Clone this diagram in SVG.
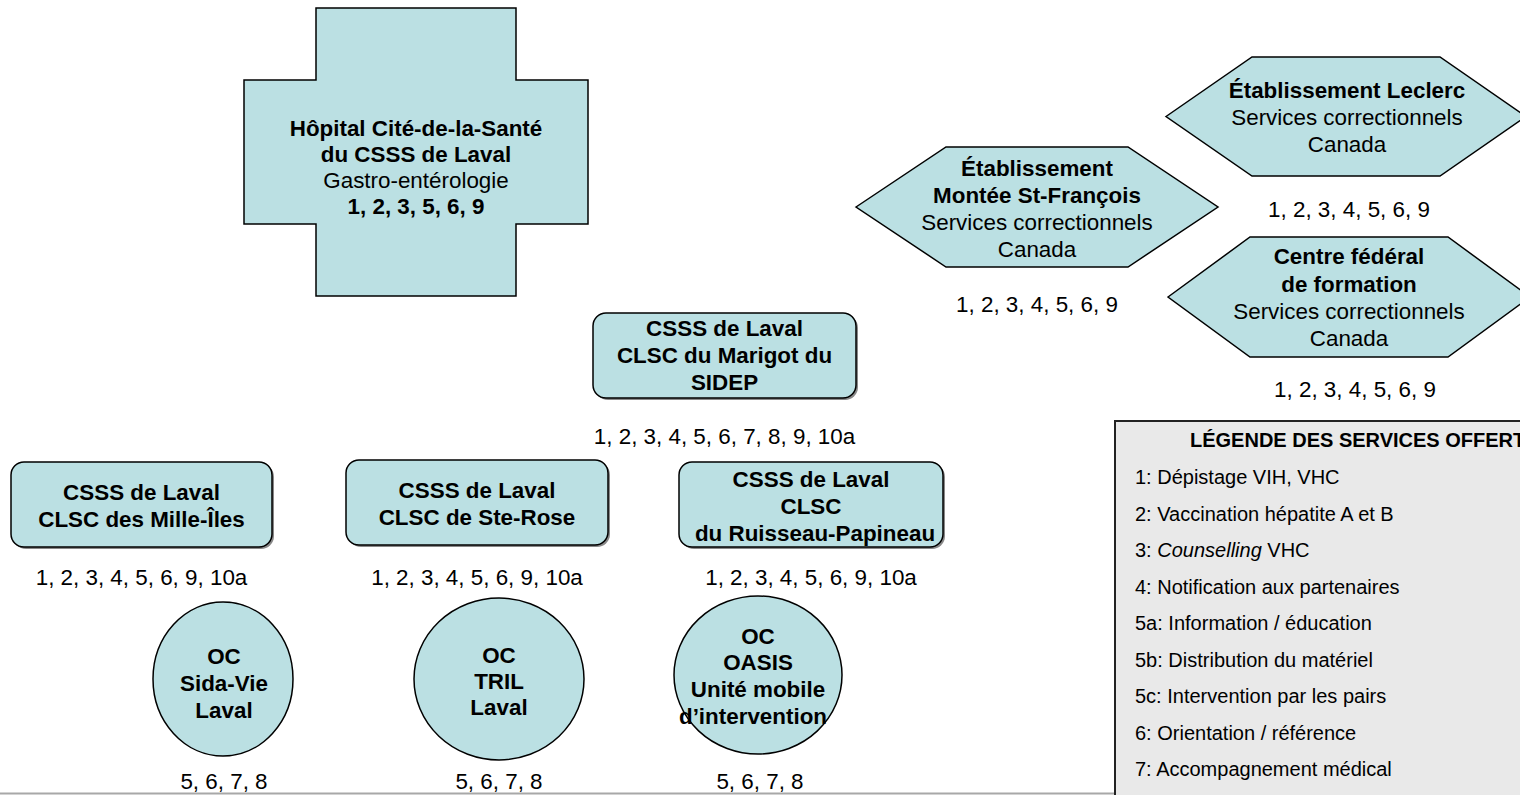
<svg xmlns="http://www.w3.org/2000/svg" width="1520" height="795" viewBox="0 0 1520 795">
<style>
.n{fill:#bbe0e3;stroke:#000;stroke-width:1.5}
.sh{fill:#555;opacity:0.7}
text{font-family:"Liberation Sans",Arial,sans-serif;font-size:22.4px;fill:#000;text-anchor:middle}
.b{font-weight:bold}
.lg{font-size:20px;text-anchor:start}
.lt{font-size:20px;font-weight:bold;text-anchor:start}
</style>
<rect width="1520" height="795" fill="#fff"/>
<line x1="0" y1="793.5" x2="1116" y2="793.5" stroke="#a8a8a8" stroke-width="2"/>
<g id="connectors"/>

<g id="hopital">
<path class="n" d="M316,8H516V80H588V224H516V296H316V224H244V80H316Z"/>
<text class="b" x="416" y="136">Hôpital Cité-de-la-Santé</text>
<text class="b" x="416" y="162">du CSSS de Laval</text>
<text x="416" y="188">Gastro-entérologie</text>
<text class="b" x="416" y="214">1, 2, 3, 5, 6, 9</text>
</g>

<g id="montee">
<polygon class="n" points="856,207 946,147 1128,147 1218,207 1128,267 946,267"/>
<text class="b" x="1037" y="176">Établissement</text>
<text class="b" x="1037" y="203">Montée St-François</text>
<text x="1037" y="230">Services correctionnels</text>
<text x="1037" y="257">Canada</text>
<text x="1037" y="312">1, 2, 3, 4, 5, 6, 9</text>
</g>

<g id="leclerc">
<polygon class="n" points="1166,116.5 1252,57 1440,57 1526,116.5 1440,176 1252,176"/>
<text class="b" x="1347" y="98">Établissement Leclerc</text>
<text x="1347" y="125">Services correctionnels</text>
<text x="1347" y="152">Canada</text>
<text x="1349" y="217">1, 2, 3, 4, 5, 6, 9</text>
</g>

<g id="centre-federal">
<polygon class="n" points="1168,297 1250,237 1448,237 1530,297 1448,357 1250,357"/>
<text class="b" x="1349" y="264">Centre fédéral</text>
<text class="b" x="1349" y="292">de formation</text>
<text x="1349" y="319">Services correctionnels</text>
<text x="1349" y="346">Canada</text>
<text x="1355" y="397">1, 2, 3, 4, 5, 6, 9</text>
</g>

<g id="marigot">
<rect class="sh" x="595" y="315" width="263" height="85" rx="13"/>
<rect class="n" x="593" y="313" width="263" height="85" rx="13"/>
<text class="b" x="724.5" y="336">CSSS de Laval</text>
<text class="b" x="724.5" y="363">CLSC du Marigot du</text>
<text class="b" x="724.5" y="390">SIDEP</text>
<text x="724.5" y="444">1, 2, 3, 4, 5, 6, 7, 8, 9, 10a</text>
</g>

<g id="mille-iles">
<rect class="sh" x="13" y="464" width="261" height="85" rx="13"/>
<rect class="n" x="11" y="462" width="261" height="85" rx="13"/>
<text class="b" x="141.5" y="500">CSSS de Laval</text>
<text class="b" x="141.5" y="527">CLSC des Mille-Îles</text>
<text x="141.5" y="585">1, 2, 3, 4, 5, 6, 9, 10a</text>
</g>

<g id="ste-rose">
<rect class="sh" x="348" y="462" width="262" height="85" rx="13"/>
<rect class="n" x="346" y="460" width="262" height="85" rx="13"/>
<text class="b" x="477" y="498">CSSS de Laval</text>
<text class="b" x="477" y="525">CLSC de Ste-Rose</text>
<text x="477" y="585">1, 2, 3, 4, 5, 6, 9, 10a</text>
</g>

<g id="ruisseau">
<rect class="sh" x="681" y="464" width="264" height="85" rx="13"/>
<rect class="n" x="679" y="462" width="264" height="85" rx="13"/>
<text class="b" x="811" y="487">CSSS de Laval</text>
<text class="b" x="811" y="514">CLSC</text>
<text class="b" x="815" y="541">du Ruisseau-Papineau</text>
<text x="811" y="585">1, 2, 3, 4, 5, 6, 9, 10a</text>
</g>

<g id="sida-vie">
<ellipse class="n" cx="223" cy="679" rx="70" ry="77"/>
<text class="b" x="224" y="664">OC</text>
<text class="b" x="224" y="691">Sida-Vie</text>
<text class="b" x="224" y="718">Laval</text>
<text x="224" y="789">5, 6, 7, 8</text>
</g>

<g id="tril">
<ellipse class="n" cx="499" cy="679" rx="85" ry="81"/>
<text class="b" x="499" y="663">OC</text>
<text class="b" x="499" y="689">TRIL</text>
<text class="b" x="499" y="715">Laval</text>
<text x="499" y="789">5, 6, 7, 8</text>
</g>

<g id="oasis">
<ellipse class="n" cx="758" cy="675" rx="84" ry="79"/>
<text class="b" x="758" y="644">OC</text>
<text class="b" x="758" y="670">OASIS</text>
<text class="b" x="758" y="697">Unité mobile</text>
<text class="b" x="753" y="724">d’intervention</text>
<text x="760" y="789">5, 6, 7, 8</text>
</g>

<g id="legende">
<rect x="1115" y="421" width="420" height="390" fill="#e9e9e9" stroke="#222" stroke-width="2"/>
<text class="lt" x="1190" y="447">LÉGENDE DES SERVICES OFFERTS</text>
<text class="lg" x="1135" y="484">1: Dépistage VIH, VHC</text>
<text class="lg" x="1135" y="521">2: Vaccination hépatite A et B</text>
<text class="lg" x="1135" y="557">3: <tspan font-style="italic">Counselling</tspan> VHC</text>
<text class="lg" x="1135" y="594">4: Notification aux partenaires</text>
<text class="lg" x="1135" y="630">5a: Information / éducation</text>
<text class="lg" x="1135" y="667">5b: Distribution du matériel</text>
<text class="lg" x="1135" y="703">5c: Intervention par les pairs</text>
<text class="lg" x="1135" y="740">6: Orientation / référence</text>
<text class="lg" x="1135" y="776">7: Accompagnement médical</text>
</g>
</svg>
